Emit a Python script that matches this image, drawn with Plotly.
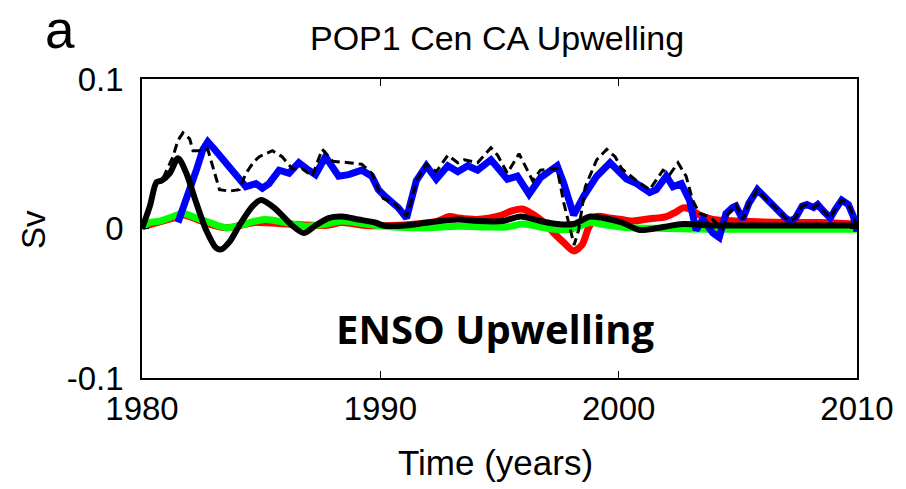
import plotly.graph_objects as go

# Upwelling transport components, Central California (Sv)
years_total = [1980.0, 1980.33, 1980.61, 1980.89, 1981.3, 1981.51, 1981.72, 1982.0, 1982.14, 1982.42,
               1982.76, 1983.04, 1983.25, 1983.67, 1984.08, 1984.36, 1984.71, 1984.92, 1985.47, 1985.88,
               1986.3, 1986.72, 1987.14, 1987.56, 1988.0, 1988.67, 1989.22, 1989.64, 1989.92, 1990.13,
               1990.47, 1990.75, 1991.1, 1991.31, 1991.51, 1991.93, 1992.35, 1992.83, 1993.25, 1993.53,
               1994.08, 1994.64, 1994.92, 1995.33, 1995.82, 1996.39, 1996.72, 1997.2, 1997.42, 1997.7,
               1997.97, 1998.13, 1998.32, 1998.6, 1999.08, 1999.5, 1999.85, 2000.13, 2000.75, 2001.3,
               2001.86, 2002.14, 2002.49, 2002.83, 2003.1, 2003.39, 2003.8, 2004.1, 2004.36, 2004.6,
               2004.92, 2005.2, 2005.47, 2005.82, 2006.17, 2006.58, 2007.0, 2007.21, 2007.42, 2007.7,
               2007.9, 2008.18, 2008.35, 2008.6, 2008.88, 2009.08, 2009.36, 2009.64, 2009.85, 2010.0]
total_sv = [0.000, 0.015, 0.031, 0.034, 0.048, 0.059, 0.064, 0.060, 0.052, 0.052,
            0.053, 0.037, 0.026, 0.025, 0.026, 0.037, 0.045, 0.048, 0.052, 0.048,
            0.040, 0.040, 0.035, 0.053, 0.045, 0.044, 0.043, 0.037, 0.026, 0.020,
            0.018, 0.014, 0.008, 0.019, 0.032, 0.043, 0.038, 0.049, 0.044, 0.046,
            0.044, 0.054, 0.049, 0.037, 0.050, 0.032, 0.039, 0.040, 0.040, 0.017,
            -0.001, -0.011, -0.001, 0.028, 0.046, 0.053, 0.048, 0.040, 0.032, 0.026,
            0.039, 0.036, 0.044, 0.035, 0.019, 0.010, 0.008, 0.004, 0.000, 0.010,
            0.016, 0.006, 0.017, 0.026, 0.020, 0.014, 0.007, 0.005, 0.007, 0.015,
            0.016, 0.014, 0.016, 0.0115, 0.007, 0.0125, 0.019, 0.016, 0.008, 0.000]

years_blue = [1981.51, 1981.72, 1982.0, 1982.28, 1982.56, 1982.76, 1983.04, 1983.39, 1983.67, 1984.08,
              1984.36, 1984.78, 1985.05, 1985.33, 1985.75, 1986.17, 1986.58, 1987.0, 1987.28, 1987.7,
              1988.25, 1988.67, 1989.22, 1989.64, 1989.92, 1990.2, 1990.47, 1990.75, 1991.1, 1991.31,
              1991.51, 1991.93, 1992.35, 1992.83, 1993.25, 1993.67, 1994.08, 1994.64, 1994.92, 1995.33,
              1995.75, 1996.24, 1996.72, 1997.42, 1997.7, 1998.11, 1998.53, 1999.08, 1999.64, 2000.13,
              2000.33, 2000.75, 2001.3, 2001.58, 2002.0, 2002.28, 2002.63, 2002.97, 2003.25, 2003.53,
              2003.95, 2004.22, 2004.5, 2004.78, 2004.92, 2005.2, 2005.47, 2005.82, 2006.17, 2006.58,
              2007.0, 2007.21, 2007.42, 2007.7, 2007.9, 2008.18, 2008.35, 2008.6, 2008.88, 2009.08,
              2009.36, 2009.64, 2009.85, 2010.0]
blue_sv = [0.004, 0.013, 0.026, 0.039, 0.053, 0.058, 0.053, 0.046, 0.040, 0.032,
           0.028, 0.030, 0.027, 0.030, 0.039, 0.037, 0.044, 0.039, 0.036, 0.048,
           0.035, 0.036, 0.039, 0.035, 0.026, 0.0215, 0.018, 0.014, 0.007, 0.019,
           0.032, 0.042, 0.033, 0.042, 0.038, 0.042, 0.039, 0.046, 0.041, 0.033,
           0.035, 0.023, 0.034, 0.042, 0.030, 0.009, 0.0215, 0.035, 0.044, 0.036,
           0.033, 0.030, 0.024, 0.026, 0.035, 0.028, 0.030, 0.019, -0.001, 0.006,
           -0.003, -0.006, 0.010, 0.014, 0.015, 0.006, 0.017, 0.026, 0.020, 0.014,
           0.007, 0.005, 0.007, 0.015, 0.016, 0.014, 0.016, 0.0115, 0.007, 0.0125,
           0.019, 0.016, 0.008, -0.002]

years_red = [1980.0, 1981.3, 1981.72, 1982.83, 1983.53, 1984.78, 1986.03, 1987.7, 1988.39, 1989.36,
             1990.5, 1991.5, 1992.4, 1992.9, 1993.3, 1994.0, 1994.6, 1995.1, 1995.55, 1995.96,
             1996.35, 1996.72, 1997.0, 1997.28, 1997.7, 1998.11, 1998.46, 1998.74, 1999.08, 1999.6,
             2000.13, 2000.6, 2001.3, 2002.0, 2002.4, 2002.7, 2002.97, 2003.39, 2003.95, 2005.0,
             2007.0, 2008.5, 2010.0]
red_sv = [0.001, 0.007, 0.009, 0.003, 0.0005, 0.004, 0.003, 0.002, 0.004, 0.002,
          0.002, 0.003, 0.005, 0.008, 0.007, 0.006, 0.007, 0.009, 0.012, 0.013,
          0.010, 0.006, 0.002, -0.003, -0.0095, -0.015, -0.011, 0.0005, 0.008, 0.007,
          0.006, 0.005, 0.0065, 0.008, 0.011, 0.0138, 0.013, 0.009, 0.006, 0.005,
          0.004, 0.004, 0.003]

years_green = [1980.0, 1980.33, 1980.75, 1981.3, 1981.72, 1982.28, 1982.83, 1983.53, 1984.08, 1984.78,
               1985.2, 1986.03, 1986.86, 1987.7, 1988.39, 1989.36, 1990.5, 1992.0, 1993.25, 1994.5,
               1995.3, 1996.0, 1996.7, 1997.3, 1998.0, 1998.8, 1999.6, 2000.5, 2002.0, 2004.0,
               2006.0, 2010.0]
green_sv = [0.001, 0.004, 0.005, 0.008, 0.010, 0.007, 0.004, 0.0005, 0.002, 0.005,
            0.006, 0.004, 0.0015, 0.003, 0.005, 0.003, 0.001, 0.0005, 0.0015, 0.001,
            0.001, 0.003, 0.001, -0.0005, -0.0005, 0.004, 0.002, 0.0005, 0.0, -0.0005,
            -0.0005, -0.0005]

years_enso = [1980.0, 1980.33, 1980.61, 1980.82, 1981.17, 1981.51, 1981.86, 1982.28, 1982.69, 1983.11,
              1983.32, 1983.67, 1984.08, 1984.64, 1985.0, 1985.61, 1986.3, 1986.79, 1987.28, 1987.83,
              1988.39, 1989.08, 1989.78, 1990.13, 1991.03, 1992.0, 1993.25, 1994.08, 1995.13, 1995.89,
              1996.72, 1997.42, 1998.11, 1998.8, 1999.36, 2000.13, 2000.89, 2001.86, 2002.7, 2004.0,
              2006.0, 2008.0, 2010.0]
enso_sv = [0.000, 0.015, 0.031, 0.032, 0.037, 0.047, 0.037, 0.017, -0.001, -0.013,
           -0.014, -0.009, 0.002, 0.015, 0.019, 0.013, 0.002, -0.003, 0.002, 0.007,
           0.008, 0.006, 0.004, 0.002, 0.002, 0.004, 0.006, 0.005, 0.005, 0.008,
           0.005, 0.003, 0.003, 0.008, 0.007, 0.004, -0.001, 0.001, 0.003, 0.002,
           0.002, 0.002, 0.002]

x_ticks = [1980, 1990, 2000, 2010]
y_ticks = [-0.1, 0, 0.1]
y_ticktext = ["-0.1", "0", "0.1"]

fig = go.Figure()
fig.add_trace(go.Scatter(x=years_red, y=red_sv, mode="lines",
                         line=dict(color="#ff0000", width=7, shape="spline", smoothing=0.8)))
fig.add_trace(go.Scatter(x=years_green, y=green_sv, mode="lines",
                         line=dict(color="#00ff00", width=7, shape="spline", smoothing=0.8)))
fig.add_trace(go.Scatter(x=years_blue, y=blue_sv, mode="lines",
                         line=dict(color="#0000ff", width=7)))
fig.add_trace(go.Scatter(x=years_total, y=total_sv, mode="lines",
                         line=dict(color="black", width=3, dash="9px,5px")))
fig.add_trace(go.Scatter(x=years_enso, y=enso_sv, mode="lines",
                         line=dict(color="black", width=6, shape="spline", smoothing=0.8)))

sans = "Liberation Sans, Arial, sans-serif"
axis_font = dict(family=sans, size=33, color="black")

fig.update_layout(
    width=906, height=489,
    margin=dict(l=142, r=44, t=79, b=111),
    paper_bgcolor="white", plot_bgcolor="white",
    showlegend=False,
    font=axis_font,
    xaxis=dict(range=[1980, 2010], tickvals=x_ticks, ticktext=[str(v) for v in x_ticks],
               showgrid=False, zeroline=False, showline=True, linecolor="black", linewidth=1.5,
               mirror="ticks", ticks="inside", ticklen=7, tickwidth=1, tickcolor="black",
               tickfont=axis_font, ticklabelstandoff=1),
    yaxis=dict(range=[-0.1, 0.1], tickvals=y_ticks, ticktext=y_ticktext,
               showgrid=False, zeroline=False, showline=True, linecolor="black", linewidth=1.5,
               mirror="ticks", ticks="inside", ticklen=7, tickwidth=1, tickcolor="black",
               tickfont=axis_font, ticklabelstandoff=10),
    annotations=[
        dict(text="a", xref="paper", yref="paper", x=-0.114, y=1.164, showarrow=False,
             font=dict(family=sans, size=53, color="black"),
             xanchor="center", yanchor="middle"),
        dict(text="POP1 Cen CA Upwelling", xref="paper", yref="paper", x=0.497, y=1.137,
             showarrow=False, xanchor="center", yanchor="middle",
             font=dict(family=sans, size=34, color="black")),
        dict(text="Time (years)", xref="paper", yref="paper", x=0.495, y=-0.284,
             showarrow=False, xanchor="center", yanchor="middle",
             font=dict(family=sans, size=35, color="black")),
        dict(text="Sv", xref="paper", yref="paper", x=-0.151, y=0.495, textangle=-90,
             showarrow=False, xanchor="center", yanchor="middle",
             font=dict(family=sans, size=33, color="black")),
        dict(text="<b>ENSO Upwelling</b>", xref="paper", yref="paper", x=0.495, y=0.167,
             showarrow=False, xanchor="center", yanchor="middle",
             font=dict(family="Open Sans, Lato, sans-serif", size=40, color="black")),
    ],
)

fig.write_html("out.html")
